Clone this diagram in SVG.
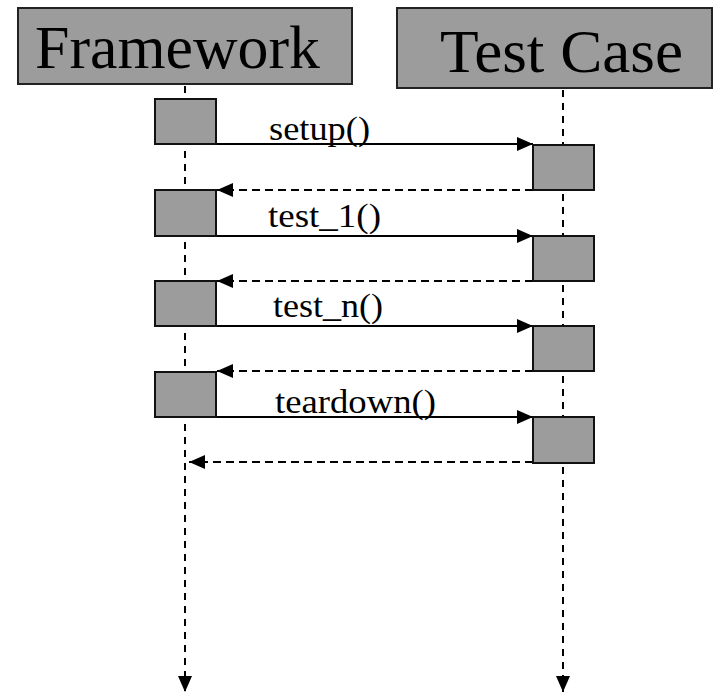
<svg xmlns="http://www.w3.org/2000/svg" width="713" height="693" viewBox="0 0 713 693">
<style>
.hdr{fill:#9c9c9c;stroke:#222;stroke-width:2}
.act{fill:#9c9c9c;stroke:#111;stroke-width:2}
.life{stroke:#000;stroke-width:2;stroke-dasharray:7 6;fill:none}
.call{stroke:#000;stroke-width:2;fill:none}
.ret{stroke:#000;stroke-width:2;stroke-dasharray:8 5;fill:none}
.big{font-family:'Liberation Serif','Times New Roman',serif;font-size:61px;fill:#000}
.lbl{font-family:'Liberation Serif','Times New Roman',serif;font-size:34px;fill:#000}
</style>
<defs>
<marker id="ah" markerWidth="16" markerHeight="14" refX="16" refY="7" orient="auto" markerUnits="userSpaceOnUse">
<path d="M0,0 L16,7 L0,14 Z" fill="#000"/>
</marker>
</defs>
<g id="connectors">
<line class="life" x1="185" y1="86" x2="185" y2="692" marker-end="url(#ah)"/>
<line class="life" x1="563" y1="90" x2="563" y2="692" marker-end="url(#ah)"/>
<line class="call" x1="216" y1="144" x2="533" y2="144" marker-end="url(#ah)"/>
<line class="ret" x1="533" y1="190" x2="217" y2="190" marker-end="url(#ah)"/>
<line class="call" x1="216" y1="236" x2="533" y2="236" marker-end="url(#ah)"/>
<line class="ret" x1="533" y1="281" x2="217" y2="281" marker-end="url(#ah)"/>
<line class="call" x1="216" y1="326" x2="533" y2="326" marker-end="url(#ah)"/>
<line class="ret" x1="533" y1="371" x2="217" y2="371" marker-end="url(#ah)"/>
<line class="call" x1="216" y1="417" x2="533" y2="417" marker-end="url(#ah)"/>
<line class="ret" x1="533" y1="462" x2="189" y2="462" marker-end="url(#ah)"/>
<text class="lbl" x="269" y="140" textLength="101" lengthAdjust="spacingAndGlyphs">setup()</text>
<text class="lbl" x="268" y="227" textLength="113" lengthAdjust="spacingAndGlyphs">test_1()</text>
<text class="lbl" x="273" y="317" textLength="110" lengthAdjust="spacingAndGlyphs">test_n()</text>
<text class="lbl" x="275" y="413" textLength="161" lengthAdjust="spacingAndGlyphs">teardown()</text>
</g>
<g id="framework">
<rect class="hdr" x="18" y="8" width="334" height="76"/>
<text class="big" x="35" y="68" textLength="285" lengthAdjust="spacingAndGlyphs">Framework</text>
</g>
<g id="testcase">
<rect class="hdr" x="397" y="8" width="315" height="80"/>
<text class="big" x="440" y="72" textLength="243" lengthAdjust="spacingAndGlyphs">Test Case</text>
</g>
<g id="fw-act">
<rect class="act" x="155" y="99" width="61" height="45"/>
<rect class="act" x="155" y="190" width="61" height="46"/>
<rect class="act" x="155" y="281" width="61" height="45"/>
<rect class="act" x="155" y="372" width="61" height="45"/>
</g>
<g id="tc-act">
<rect class="act" x="533" y="145" width="61" height="45"/>
<rect class="act" x="533" y="236" width="61" height="45"/>
<rect class="act" x="533" y="326" width="61" height="45"/>
<rect class="act" x="533" y="417" width="61" height="46"/>
</g>
</svg>
